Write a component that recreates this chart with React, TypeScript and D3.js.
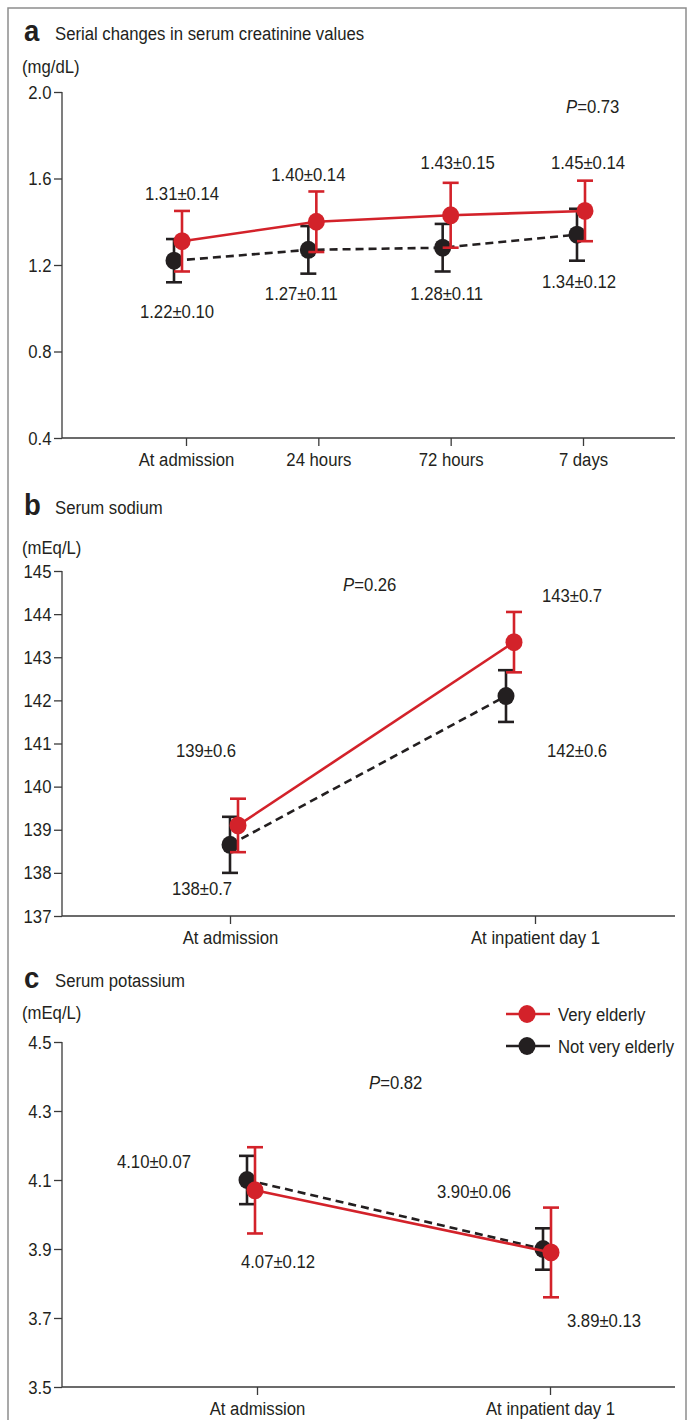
import { useRef, useEffect } from "react";
import * as d3 from "d3";

// a: serum creatinine
const creatCats = ["At admission", "24 hours", "72 hours", "7 days"];
const creatTicks = [0.4, 0.8, 1.2, 1.6, 2.0];
const creatVery = [1.31, 1.4, 1.43, 1.45];
const creatVerySd = [0.14, 0.14, 0.15, 0.14];
const creatNot = [1.22, 1.27, 1.28, 1.34];
const creatNotSd = [0.1, 0.11, 0.11, 0.12];
const creatVeryLabels = ["1.31±0.14", "1.40±0.14", "1.43±0.15", "1.45±0.14"];
const creatNotLabels = ["1.22±0.10", "1.27±0.11", "1.28±0.11", "1.34±0.12"];

// b: serum sodium
const naCats = ["At admission", "At inpatient day 1"];
const naTicks = [137, 138, 139, 140, 141, 142, 143, 144, 145];
const naVery = [139.1, 143.35];
const naVerySd = [0.62, 0.7];
const naNot = [138.65, 142.1];
const naNotSd = [0.65, 0.6];
const naVeryLabels = ["139±0.6", "143±0.7"];
const naNotLabels = ["138±0.7", "142±0.6"];

// c: serum potassium
const kCats = ["At admission", "At inpatient day 1"];
const kTicks = [3.5, 3.7, 3.9, 4.1, 4.3, 4.5];
const kVery = [4.07, 3.89];
const kVerySd = [0.125, 0.13];
const kNot = [4.1, 3.9];
const kNotSd = [0.07, 0.06];
const kVeryLabels = ["4.07±0.12", "3.89±0.13"];
const kNotLabels = ["4.10±0.07", "3.90±0.06"];

const seriesNames = ["Very elderly", "Not very elderly"];

const RED = "#d3222a";
const BLACK = "#231f20";
const FONT = "'Liberation Sans', Arial, sans-serif";
const FS = 19;
const SX = 0.88; // narrow the sans to look like a condensed face

export default function App() {
  const ref = useRef<SVGSVGElement>(null);

  useEffect(() => {
    const svg = d3.select(ref.current);
    svg.selectAll("*").remove();
    svg.style("font-family", FONT).style("fill", BLACK);

    // condensed text helper
    const txt = (parent: any, x: number, y: number, s: string, anchor = "start") =>
      parent
        .append("text")
        .attr("transform", `translate(${x},${y}) scale(${SX},1)`)
        .attr("text-anchor", anchor)
        .attr("font-size", FS)
        .text(s);

    // outer frame, open at the bottom of the page
    svg
      .append("rect")
      .attr("x", 8)
      .attr("y", 8)
      .attr("width", 678)
      .attr("height", 1440)
      .attr("fill", "none")
      .attr("stroke", "#8d8d8d")
      .attr("stroke-width", 1.5);

    const panels = [
      {
        letter: "a",
        title: "Serial changes in serum creatinine values",
        unit: "(mg/dL)",
        titleY: 41,
        unitY: 73,
        cats: creatCats,
        ticks: creatTicks,
        fmt: d3.format(".1f"),
        yRange: [438, 92],
        tickRange: [186, 583],
        markRange: [178, 581],
        very: creatVery,
        verySd: creatVerySd,
        not: creatNot,
        notSd: creatNotSd,
        veryLabels: creatVeryLabels,
        notLabels: creatNotLabels,
        // label offsets from each marker centre (px)
        veryOff: [[0, -41], [-8, -41], [7, -46], [3, -42]],
        notOff: [[3, 57], [-7, 50], [4, 52], [2, 53]],
        p: "0.73",
        pPos: [566, 113],
        legend: false,
      },
      {
        letter: "b",
        title: "Serum sodium",
        unit: "(mEq/L)",
        titleY: 515,
        unitY: 554,
        cats: naCats,
        ticks: naTicks,
        fmt: d3.format("d"),
        yRange: [916, 571],
        tickRange: [230, 535],
        markRange: [234, 510],
        very: naVery,
        verySd: naVerySd,
        not: naNot,
        notSd: naNotSd,
        veryLabels: naVeryLabels,
        notLabels: naNotLabels,
        veryOff: [[-32, -68], [58, -40]],
        notOff: [[-28, 50], [71, 61]],
        p: "0.26",
        pPos: [343, 591],
        legend: false,
      },
      {
        letter: "c",
        title: "Serum potassium",
        unit: "(mEq/L)",
        titleY: 988,
        unitY: 1019,
        cats: kCats,
        ticks: kTicks,
        fmt: d3.format(".1f"),
        yRange: [1387, 1042],
        tickRange: [257, 550],
        markRange: [251, 547],
        very: kVery,
        verySd: kVerySd,
        not: kNot,
        notSd: kNotSd,
        veryLabels: kVeryLabels,
        notLabels: kNotLabels,
        veryOff: [[23, 78], [53, 75]],
        notOff: [[-93, -12], [-69, -51]],
        p: "0.82",
        pPos: [369, 1089],
        legend: true,
      },
    ];

    const axisLeft = 62;
    const axisRight = 675;

    panels.forEach((pn) => {
      const g = svg.append("g");
      const y = d3
        .scaleLinear()
        .domain(d3.extent(pn.ticks) as [number, number])
        .range(pn.yRange);
      const xTick = d3.scalePoint().domain(pn.cats).range(pn.tickRange);
      const xMark = d3.scalePoint().domain(pn.cats).range(pn.markRange);

      // headings
      g.append("text")
        .attr("transform", `translate(24,${pn.titleY}) scale(0.95,1)`)
        .attr("font-size", 29)
        .attr("font-weight", "bold")
        .text(pn.letter);
      txt(g, 55, pn.titleY - 1, pn.title);
      txt(g, 22, pn.unitY, pn.unit);

      // y axis
      const yAxis = g
        .append("g")
        .attr("transform", `translate(${axisLeft},0)`)
        .call(
          d3
            .axisLeft(y)
            .tickValues(pn.ticks)
            .tickFormat((d) => pn.fmt(d as number))
            .tickSize(8)
            .tickPadding(4)
        );
      yAxis.select(".domain").attr("d", `M0,${pn.yRange[1]}V${pn.yRange[0]}`);

      // x axis
      const xAxis = g
        .append("g")
        .attr("transform", `translate(0,${pn.yRange[0]})`)
        .call(d3.axisBottom(xTick).tickSize(8).tickPadding(7));
      xAxis.select(".domain").attr("d", `M${axisLeft},0H${axisRight}`);

      g.selectAll(".tick text")
        .attr("font-size", FS)
        .attr("font-family", FONT)
        .attr("fill", BLACK)
        .attr("transform", `scale(${SX},1)`);
      g.selectAll(".domain, .tick line")
        .attr("stroke", "#3a3a3a")
        .attr("stroke-width", 1.3);

      const series = [
        {
          vals: pn.not,
          sd: pn.notSd,
          labels: pn.notLabels,
          off: pn.notOff,
          color: BLACK,
          dash: "8,5",
          dx: -4,
        },
        {
          vals: pn.very,
          sd: pn.verySd,
          labels: pn.veryLabels,
          off: pn.veryOff,
          color: RED,
          dash: null,
          dx: 4,
        },
      ];

      series.forEach((s) => {
        const px = (i: number) => (xMark(pn.cats[i]) as number) + s.dx;
        const line = d3
          .line<number>()
          .x((_, i) => px(i))
          .y((d) => y(d));
        g.append("path")
          .datum(s.vals)
          .attr("d", line)
          .attr("fill", "none")
          .attr("stroke", s.color)
          .attr("stroke-width", 2.6)
          .attr("stroke-dasharray", s.dash);

        const bars = g
          .append("g")
          .selectAll("g")
          .data(s.vals)
          .join("g")
          .attr("stroke", s.color)
          .attr("stroke-width", 2.6);
        bars
          .append("line")
          .attr("x1", (_, i) => px(i))
          .attr("x2", (_, i) => px(i))
          .attr("y1", (d, i) => y(d + s.sd[i]))
          .attr("y2", (d, i) => y(d - s.sd[i]));
        [1, -1].forEach((sign) => {
          bars
            .append("line")
            .attr("x1", (_, i) => px(i) - 8)
            .attr("x2", (_, i) => px(i) + 8)
            .attr("y1", (d, i) => y(d + sign * s.sd[i]))
            .attr("y2", (d, i) => y(d + sign * s.sd[i]));
        });

        g.append("g")
          .selectAll("ellipse")
          .data(s.vals)
          .join("ellipse")
          .attr("cx", (_, i) => px(i))
          .attr("cy", (d) => y(d))
          .attr("rx", 8.5)
          .attr("ry", 9)
          .attr("fill", s.color);

        const lab = g.append("g");
        s.vals.forEach((d, i) => {
          txt(lab, px(i) + s.off[i][0], y(d) + s.off[i][1], s.labels[i], "middle");
        });
      });

      // P value
      const pt = txt(g, pn.pPos[0], pn.pPos[1], "");
      pt.append("tspan").attr("font-style", "italic").text("P");
      pt.append("tspan").text("=" + pn.p);

      if (pn.legend) {
        const leg = g
          .append("g")
          .selectAll("g")
          .data(seriesNames)
          .join("g")
          .attr("transform", (_, i) => `translate(506,${1014 + i * 32})`);
        leg
          .append("line")
          .attr("x1", 0)
          .attr("x2", 44)
          .attr("stroke", (_, i) => (i === 0 ? RED : BLACK))
          .attr("stroke-width", 2.6);
        leg
          .append("ellipse")
          .attr("cx", 21)
          .attr("rx", 8.5)
          .attr("ry", 9)
          .attr("fill", (_, i) => (i === 0 ? RED : BLACK));
        leg.each(function (d) {
          txt(d3.select(this), 52, 7, d as string);
        });
      }
    });
  }, []);

  return (
    <svg
      ref={ref}
      width={691}
      height={1420}
      style={{ position: "absolute", left: 0, top: 0, display: "block" }}
    />
  );
}
